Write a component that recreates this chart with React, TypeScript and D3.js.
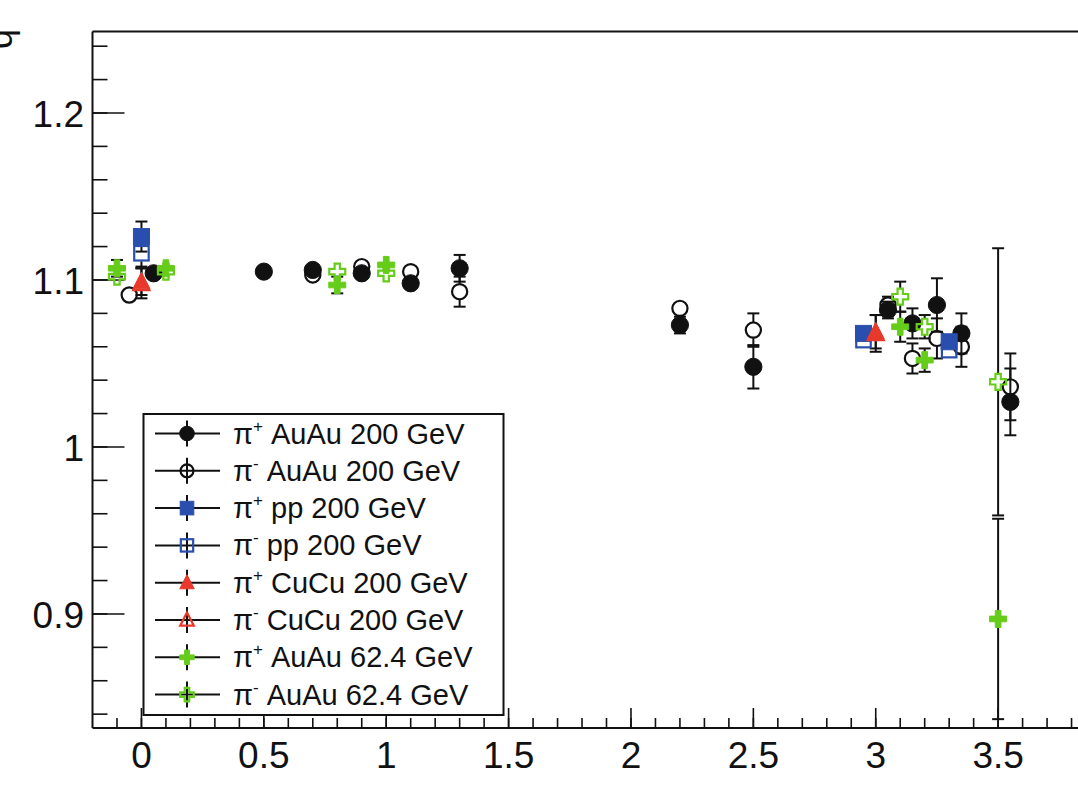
import React from "react";
import * as d3 from "d3";

// ---------------- data ----------------
const piPlusAuAu200X = [0.05, 0.5, 0.7, 0.9, 1.1, 1.3, 2.2, 2.5, 3.05, 3.15, 3.25, 3.35, 3.55];
const piPlusAuAu200Y = [1.104, 1.105, 1.106, 1.104, 1.098, 1.107, 1.073, 1.048, 1.082, 1.074, 1.085, 1.068, 1.027];
const piPlusAuAu200E = [0.004, 0.003, 0.004, 0.003, 0.004, 0.008, 0.005, 0.013, 0.005, 0.009, 0.016, 0.012, 0.02];

const piMinusAuAu200X = [-0.05, 0.7, 0.9, 1.1, 1.3, 2.2, 2.5, 3.05, 3.15, 3.25, 3.35, 3.55];
const piMinusAuAu200Y = [1.091, 1.103, 1.108, 1.105, 1.093, 1.083, 1.07, 1.085, 1.053, 1.065, 1.06, 1.036];
const piMinusAuAu200E = [0.004, 0.004, 0.003, 0.004, 0.009, 0.004, 0.01, 0.005, 0.009, 0.012, 0.012, 0.02];

const piPlusPP200X = [0, 2.95, 3.3];
const piPlusPP200Y = [1.126, 1.068, 1.063];
const piPlusPP200E = [0.009, 0.004, 0.004];

const piMinusPP200X = [0, 2.95, 3.3];
const piMinusPP200Y = [1.116, 1.064, 1.058];
const piMinusPP200E = [0.008, 0.004, 0.004];

const piPlusCuCu200X = [0, 3.0];
const piPlusCuCu200Y = [1.099, 1.069];
const piPlusCuCu200E = [0.008, 0.01];

const piMinusCuCu200X = [0, 3.0];
const piMinusCuCu200Y = [1.098, 1.068];
const piMinusCuCu200E = [0.009, 0.011];

const piPlusAuAu62X = [-0.1, 0.1, 0.8, 1.0, 3.1, 3.2, 3.5];
const piPlusAuAu62Y = [1.107, 1.107, 1.097, 1.109, 1.072, 1.052, 0.897];
const piPlusAuAu62E = [0.005, 0.004, 0.005, 0.004, 0.009, 0.007, 0.06];

const piMinusAuAu62X = [-0.1, 0.1, 0.8, 1.0, 3.1, 3.2, 3.5];
const piMinusAuAu62Y = [1.102, 1.105, 1.105, 1.104, 1.09, 1.072, 1.039];
const piMinusAuAu62E = [0.004, 0.004, 0.004, 0.004, 0.009, 0.007, 0.08];

const legendCharges = ["+", "-", "+", "-", "+", "-", "+", "-"];
const legendSystems = [" AuAu 200 GeV", " AuAu 200 GeV", " pp 200 GeV", " pp 200 GeV", " CuCu 200 GeV", " CuCu 200 GeV", " AuAu 62.4 GeV", " AuAu 62.4 GeV"];

const xTickLabels = ["0", "0.5", "1", "1.5", "2", "2.5", "3", "3.5"];
const yTickLabels = ["0.9", "1", "1.1", "1.2"];

const X_DOMAIN = [-0.2, 4.0];
const Y_DOMAIN = [0.8317, 1.2488];

// ---------------- styling ----------------
const BLACK = "#111111";
const BLUE = "#2a4ead";
const RED = "#e8392c";
const GREEN = "#66cc1a";

type Shape = "circle" | "square" | "triangle" | "cross";
interface Series {
  x: number[];
  y: number[];
  e: number[];
  shape: Shape;
  filled: boolean;
  color: string;
}

const series: Series[] = [
  { x: piPlusAuAu200X, y: piPlusAuAu200Y, e: piPlusAuAu200E, shape: "circle", filled: true, color: BLACK },
  { x: piMinusAuAu200X, y: piMinusAuAu200Y, e: piMinusAuAu200E, shape: "circle", filled: false, color: BLACK },
  { x: piPlusPP200X, y: piPlusPP200Y, e: piPlusPP200E, shape: "square", filled: true, color: BLUE },
  { x: piMinusPP200X, y: piMinusPP200Y, e: piMinusPP200E, shape: "square", filled: false, color: BLUE },
  { x: piPlusCuCu200X, y: piPlusCuCu200Y, e: piPlusCuCu200E, shape: "triangle", filled: true, color: RED },
  { x: piMinusCuCu200X, y: piMinusCuCu200Y, e: piMinusCuCu200E, shape: "triangle", filled: false, color: RED },
  { x: piPlusAuAu62X, y: piPlusAuAu62Y, e: piPlusAuAu62E, shape: "cross", filled: true, color: GREEN },
  { x: piMinusAuAu62X, y: piMinusAuAu62Y, e: piMinusAuAu62E, shape: "cross", filled: false, color: GREEN },
];

const W = 1078;
const H = 797;
const LEFT = 92.5;
const TOP = 31.5;
const BOTTOM = 728;
const RIGHT = 1120.5;
const FONT = "'Liberation Sans', Arial, Helvetica, sans-serif";

function crossPath(s: number) {
  const h = s / 2;
  const a = s / 6;
  return `M${-a},${-h}H${a}V${-a}H${h}V${a}H${a}V${h}H${-a}V${a}H${-h}V${-a}H${-a}Z`;
}

function Marker({ cx, cy, shape, filled, color, k = 1 }: { cx: number; cy: number; shape: Shape; filled: boolean; color: string; k?: number }) {
  const fill = filled ? color : "none";
  const sw = 2.2;
  if (shape === "circle") {
    const r = (filled ? 8.6 : 7.6) * k;
    return <circle cx={cx} cy={cy} r={r} fill={fill} stroke={color} strokeWidth={filled ? 1 : sw} />;
  }
  if (shape === "square") {
    const s = (filled ? 16 : 14.5) * k;
    return <rect x={cx - s / 2} y={cy - s / 2} width={s} height={s} fill={fill} stroke={color} strokeWidth={filled ? 1 : sw} />;
  }
  if (shape === "triangle") {
    const s = (filled ? 17 : 16) * k;
    const p = `M${cx},${cy - s * 0.55}L${cx + s / 2},${cy + s * 0.42}L${cx - s / 2},${cy + s * 0.42}Z`;
    return <path d={p} fill={fill} stroke={color} strokeWidth={filled ? 1 : sw} strokeLinejoin="miter" />;
  }
  const s = (filled ? 17 : 16) * k;
  return <path d={crossPath(s)} transform={`translate(${cx},${cy})`} fill={fill} stroke={color} strokeWidth={filled ? 1 : sw} />;
}

export default function App() {
  const x = d3.scaleLinear().domain(X_DOMAIN).range([LEFT, RIGHT]);
  const y = d3.scaleLinear().domain(Y_DOMAIN).range([BOTTOM, TOP]);

  const xMinor = d3.range(-1, 40).map((i) => i / 10);
  const xMajor = xTickLabels.map(Number);
  const yMinor = d3.range(42, 63).map((i) => i / 50);
  const yMajor = yTickLabels.map(Number);

  const gap = 8;
  const cap = 6;

  // legend geometry
  const lgX0 = 143.5;
  const lgY0 = 414;
  const lgW = 360;
  const lgH = 301;
  const rowY0 = 433.5;
  const rowDy = 37.3;

  return (
    <svg width={W} height={H} style={{ position: "absolute", left: 0, top: 0, background: "#fff" }} fontFamily={FONT}>
      <rect x={0} y={0} width={W} height={H} fill="#fff" />
      {/* y-axis title (mostly cut off in the original) */}
      <text transform={`translate(12,49) rotate(-90)`} fontSize={36} fill={BLACK} textAnchor="start">
        q
      </text>

      {/* frame */}
      <line x1={LEFT} x2={RIGHT} y1={TOP} y2={TOP} stroke={BLACK} strokeWidth={2} />
      <line x1={LEFT} x2={LEFT} y1={TOP} y2={BOTTOM} stroke={BLACK} strokeWidth={2} />
      <line x1={LEFT} x2={RIGHT} y1={BOTTOM} y2={BOTTOM} stroke={BLACK} strokeWidth={2} />

      {/* x ticks */}
      {xMinor.map((v) => (
        <line key={"xm" + v} x1={x(v)} x2={x(v)} y1={BOTTOM} y2={BOTTOM - 10} stroke={BLACK} strokeWidth={1.6} />
      ))}
      {xMajor.map((v) => (
        <line key={"xM" + v} x1={x(v)} x2={x(v)} y1={BOTTOM} y2={BOTTOM - 20} stroke={BLACK} strokeWidth={1.6} />
      ))}
      {xTickLabels.map((t) => (
        <text key={"xl" + t} x={x(Number(t))} y={768} fontSize={37} textAnchor="middle" fill={BLACK}>
          {t}
        </text>
      ))}

      {/* y ticks */}
      {yMinor.map((v) => (
        <line key={"ym" + v} x1={LEFT} x2={LEFT + 15} y1={y(v)} y2={y(v)} stroke={BLACK} strokeWidth={1.6} />
      ))}
      {yMajor.map((v) => (
        <line key={"yM" + v} x1={LEFT} x2={LEFT + 32} y1={y(v)} y2={y(v)} stroke={BLACK} strokeWidth={1.6} />
      ))}
      {yTickLabels.map((t) => (
        <text key={"yl" + t} x={84} y={y(Number(t)) + 14} fontSize={37} textAnchor="end" fill={BLACK}>
          {t}
        </text>
      ))}

      {/* error bars */}
      {series.map((s, si) =>
        s.x.map((xv, i) => {
          const cx = x(xv);
          const cy = y(s.y[i]);
          const top = y(s.y[i] + s.e[i]);
          const bot = y(s.y[i] - s.e[i]);
          if (cy - top <= gap) return null;
          return (
            <g key={`e${si}-${i}`} stroke={BLACK} strokeWidth={2}>
              <line x1={cx} x2={cx} y1={top} y2={cy - gap} />
              <line x1={cx} x2={cx} y1={cy + gap} y2={bot} />
              <line x1={cx - cap} x2={cx + cap} y1={top} y2={top} />
              <line x1={cx - cap} x2={cx + cap} y1={bot} y2={bot} />
            </g>
          );
        })
      )}

      {/* markers */}
      {series.map((s, si) =>
        s.x.map((xv, i) => (
          <Marker key={`m${si}-${i}`} cx={x(xv)} cy={y(s.y[i])} shape={s.shape} filled={s.filled} color={s.color} />
        ))
      )}

      {/* legend */}
      <rect x={lgX0} y={lgY0} width={lgW} height={lgH} fill="#fff" stroke={BLACK} strokeWidth={2} />
      {series.map((s, i) => {
        const cy = rowY0 + i * rowDy;
        const cx = 187;
        return (
          <g key={"lg" + i}>
            <line x1={155} x2={220} y1={cy} y2={cy} stroke={BLACK} strokeWidth={2} />
            <line x1={cx} x2={cx} y1={cy - 13} y2={cy + 13} stroke={BLACK} strokeWidth={2} />
            <Marker cx={cx} cy={cy} shape={s.shape} filled={s.filled} color={s.color} k={0.85} />
            <text x={233} y={cy + 10} fontSize={29} fill={BLACK}>
              <tspan>π</tspan>
              <tspan fontSize={17} dy={-12}>
                {legendCharges[i]}
              </tspan>
              <tspan dy={12}>{legendSystems[i]}</tspan>
            </text>
          </g>
        );
      })}
    </svg>
  );
}
